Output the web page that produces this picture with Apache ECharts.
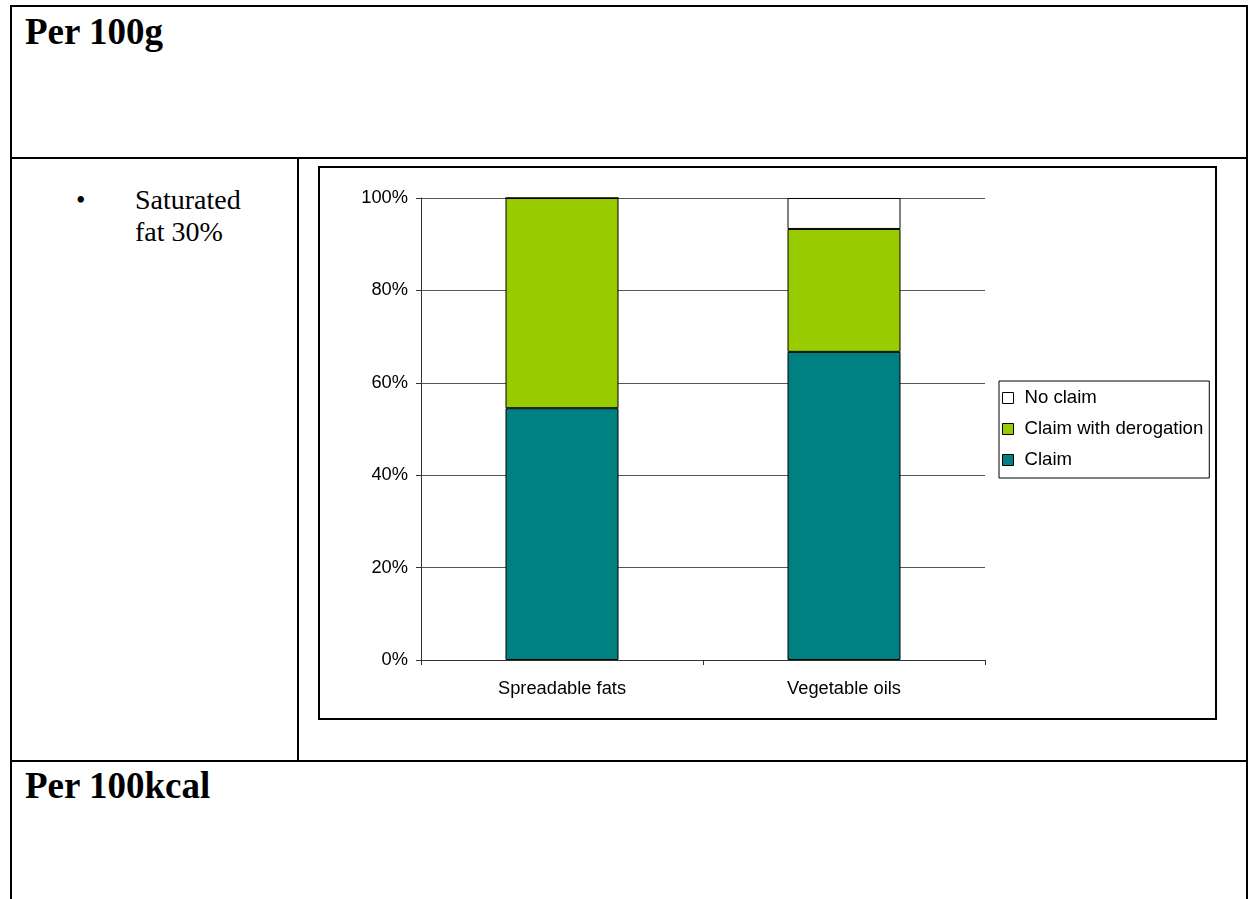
<!DOCTYPE html>
<html>
<head>
<meta charset="utf-8">
<script src="https://cdn.jsdelivr.net/npm/echarts@6/dist/echarts.min.js"></script>
<style>
  html, body { margin: 0; padding: 0; background: #fff; width: 1249px; height: 899px; overflow: hidden; }
  .ln { position: absolute; background: #000; }
  .txt { position: absolute; font-family: "Liberation Serif", "Times New Roman", serif; color: #000; white-space: nowrap; }
  #chartbox { position: absolute; left: 318px; top: 166px; width: 899px; height: 554px; border: 2px solid #000; box-sizing: border-box; background: #fff; }
  #chart { width: 895px; height: 550px; }
</style>
</head>
<body>
<!-- table borders -->
<div class="ln" style="left:10px;top:5px;width:1238px;height:2px;"></div>
<div class="ln" style="left:10px;top:5px;width:2px;height:894px;"></div>
<div class="ln" style="left:1246px;top:5px;width:2px;height:894px;"></div>
<div class="ln" style="left:10px;top:157px;width:1238px;height:2px;"></div>
<div class="ln" style="left:297px;top:157px;width:2px;height:604px;"></div>
<div class="ln" style="left:10px;top:760px;width:1238px;height:2px;"></div>

<div class="txt" style="left:25px;top:10px;font-size:37px;font-weight:bold;line-height:44px;">Per 100g</div>
<div class="txt" style="left:76px;top:184px;font-size:27px;line-height:32px;">&#8226;</div>
<div class="txt" style="left:135px;top:184px;font-size:28px;line-height:32px;">Saturated<br>fat 30%</div>
<div class="txt" style="left:25px;top:764px;font-size:37px;font-weight:bold;line-height:44px;">Per 100kcal</div>

<div id="chartbox"><div id="chart"></div></div>

<script>
const categories = ['Spreadable fats', 'Vegetable oils'];
const claimValues = [54.5, 66.7];
const derogationValues = [45.5, 26.6];
const noClaimValues = [0, 6.7];
const yTicks = [0, 20, 40, 60, 80, 100];
const legendOrder = ['No claim', 'Claim with derogation', 'Claim'];

const chart = echarts.init(document.getElementById('chart'), null, { renderer: 'canvas' });
const font = 'Liberation Sans, Arial, sans-serif';
const barStyle = (c) => ({ color: c, borderColor: '#000', borderWidth: 1 });

chart.setOption({
  animation: false,
  backgroundColor: '#fff',
  grid: { left: 101, right: 230, top: 30, bottom: 58 },
  legend: {
    data: legendOrder,
    orient: 'vertical',
    left: 679,
    top: 213,
    padding: [7, 6, 8, 3],
    itemGap: 11,
    itemWidth: 11,
    itemHeight: 11,
    icon: 'rect',
    borderColor: '#000',
    borderWidth: 1,
    backgroundColor: '#fff',
    textStyle: { fontFamily: font, fontSize: 18.6, color: '#000', lineHeight: 20, padding: [0, 0, 0, 6] },
    itemStyle: { borderColor: '#000', borderWidth: 1 }
  },
  xAxis: {
    type: 'category',
    data: categories,
    axisLine: { lineStyle: { color: '#333', width: 1 } },
    axisTick: { show: true, length: 5, lineStyle: { color: '#333' } },
    axisLabel: { fontFamily: font, fontSize: 18.3, color: '#000', margin: 20 },
    splitLine: { show: false }
  },
  yAxis: {
    type: 'value',
    min: 0,
    max: 100,
    interval: 20,
    axisLine: { show: true, lineStyle: { color: '#333', width: 1 } },
    axisTick: { show: true, length: 5, lineStyle: { color: '#333' } },
    axisLabel: { fontFamily: font, fontSize: 18.3, color: '#000', margin: 13, formatter: (v) => yTicks.includes(v) ? v + '%' : '' },
    splitLine: { show: true, lineStyle: { color: '#555', width: 1 } }
  },
  series: [
    { name: 'Claim', type: 'bar', stack: 'a', barWidth: 113, data: claimValues, itemStyle: barStyle('#008080') },
    { name: 'Claim with derogation', type: 'bar', stack: 'a', barWidth: 113, data: derogationValues, itemStyle: barStyle('#99CC00') },
    { name: 'No claim', type: 'bar', stack: 'a', barWidth: 113, data: noClaimValues, itemStyle: barStyle('#FFFFFF') }
  ]
});
</script>
</body>
</html>
